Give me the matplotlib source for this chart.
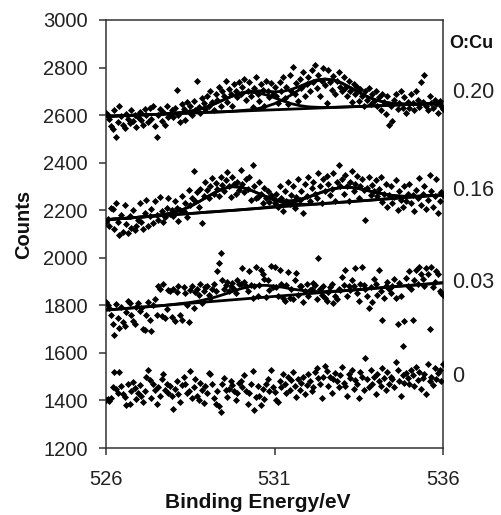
import numpy as np
import matplotlib
matplotlib.use('Agg')
import matplotlib.pyplot as plt

plt.rcParams['font.family'] = ['Liberation Sans', 'DejaVu Sans']

# measured spectra, 526-536 eV in 0.05 eV steps
counts_0 = [
    1400, 1405, 1398, 1410, 1455, 1520, 1448, 1432, 1520, 1460, 1425, 1415, 1380, 1470, 1385, 1440, 1478, 1452, 1405, 1430,
    1465, 1420, 1395, 1440, 1500, 1530, 1485, 1410, 1470, 1445, 1385, 1455, 1420, 1490, 1510, 1445, 1470, 1430, 1460, 1420,
    1365, 1450, 1480, 1425, 1395, 1465, 1500, 1470, 1430, 1440, 1525, 1410, 1455, 1490, 1420, 1400, 1475, 1445, 1390, 1460,
    1430, 1515, 1510, 1470, 1410, 1385, 1440, 1375, 1350, 1470, 1495, 1445, 1415, 1450, 1480, 1465, 1440, 1400, 1430, 1475,
    1480, 1455, 1505, 1440, 1385, 1430, 1470, 1525, 1360, 1415, 1460, 1420, 1380, 1450, 1405, 1470, 1490, 1440, 1530, 1455,
    1435, 1400, 1395, 1480, 1455, 1510, 1470, 1430, 1500, 1445, 1485, 1520, 1460, 1415, 1490, 1445, 1475, 1500, 1425, 1465,
    1510, 1480, 1440, 1455, 1520, 1535, 1495, 1470, 1410, 1500, 1545, 1525, 1460, 1500, 1430, 1490, 1515, 1480, 1455, 1505,
    1540, 1475, 1460, 1420, 1510, 1495, 1530, 1450, 1485, 1470, 1410, 1520, 1500, 1445, 1580, 1490, 1455, 1530, 1470, 1500,
    1425, 1510, 1480, 1460, 1535, 1495, 1445, 1520, 1470, 1500, 1490, 1455, 1560, 1530, 1480, 1420, 1505, 1475, 1515, 1495,
    1470, 1530, 1505, 1460, 1540, 1485, 1520, 1450, 1495, 1510, 1425, 1555, 1480, 1500, 1465, 1535, 1490, 1515, 1530, 1480,
    1555]

counts_003 = [
    1815, 1800, 1790, 1760, 1720, 1675, 1805, 1745, 1705, 1795, 1730, 1715, 1770, 1820, 1810, 1760, 1735, 1720, 1795, 1810,
    1775, 1790, 1700, 1695, 1760, 1815, 1740, 1690, 1800, 1825, 1760, 1880, 1870, 1755, 1890, 1745, 1785, 1865, 1860, 1750,
    1870, 1735, 1855, 1880, 1760, 1740, 1875, 1850, 1800, 1730, 1865, 1880, 1790, 1855, 1870, 1845, 1890, 1810, 1860, 1875,
    1880, 1845, 1830, 1870, 1890, 1860, 1944, 1978, 2020, 1905, 1870, 1885, 1900, 1860, 1880, 1895, 1870, 1850, 1905, 1890,
    1890, 1955, 1900, 1880, 1860, 1945, 1885, 1830, 1880, 1960, 1840, 1885, 1950, 1930, 1910, 1835, 1905, 1865, 1965, 1875,
    1960, 1875, 1840, 1950, 1890, 1830, 1820, 1885, 1940, 1830, 1870, 1825, 1905, 1935, 1845, 1880, 1880, 1815, 1860, 1890,
    1840, 1865, 1870, 1895, 1885, 1825, 2000, 1870, 1845, 1880, 1830, 1820, 1855, 1875, 1890, 1810, 1840, 1825, 1870, 1865,
    1920, 1885, 1950, 1840, 1880, 1865, 1905, 1880, 1955, 1850, 1820, 1890, 1960, 1885, 1870, 1840, 1790, 1875, 1815, 1910,
    1890, 1845, 1950, 1860, 1740, 1830, 1880, 1900, 1870, 1850, 1880, 1910, 1830, 1720, 1895, 1840, 1630, 1735, 1915, 1880,
    1945, 1870, 1740, 1905, 1950, 1890, 1960, 1930, 1910, 1880, 1955, 1930, 1700, 1960, 1875, 1900, 1945, 1930, 1860, 1850,
    1845]

counts_016 = [
    2150, 2165, 2135, 2210, 2205, 2120, 2230, 2150, 2095, 2180, 2110, 2220, 2140, 2105, 2175, 2125, 2200, 2115, 2135, 2160,
    2230, 2150, 2120, 2190, 2245, 2135, 2175, 2205, 2145, 2240, 2180, 2160, 2255, 2195, 2150, 2170, 2210, 2250, 2185, 2200,
    2175, 2240, 2210, 2155, 2200, 2260, 2195, 2230, 2170, 2285, 2220, 2250, 2365, 2240, 2275, 2215, 2290, 2145, 2260, 2320,
    2285, 2250, 2300, 2335, 2270, 2315, 2290, 2260, 2340, 2305, 2280, 2325, 2361, 2300, 2255, 2340, 2310, 2270, 2320, 2285,
    2369, 2310, 2275, 2330, 2290, 2340, 2245, 2390, 2300, 2250, 2255, 2320, 2270, 2230, 2295, 2250, 2280, 2235, 2265, 2250,
    2230, 2270, 2215, 2300, 2250, 2195, 2280, 2240, 2320, 2225, 2265, 2300, 2210, 2255, 2330, 2245, 2280, 2190, 2310, 2260,
    2340, 2240, 2295, 2320, 2270, 2250, 2355, 2300, 2230, 2330, 2280, 2345, 2310, 2265, 2290, 2355, 2240, 2320, 2390, 2300,
    2330, 2270, 2350, 2300, 2240, 2320, 2365, 2280, 2310, 2345, 2250, 2300, 2330, 2285, 2160, 2295, 2340, 2265, 2305, 2280,
    2325, 2260, 2290, 2340, 2235, 2270, 2310, 2215, 2265, 2300, 2230, 2255, 2325, 2200, 2280, 2245, 2215, 2300, 2240, 2270,
    2310, 2230, 2265, 2195, 2285, 2250, 2335, 2220, 2270, 2300, 2205, 2245, 2350, 2280, 2215, 2260, 2330, 2190, 2240, 2275,
    2265]

counts_020 = [
    2610, 2600, 2585, 2555, 2540, 2620, 2510, 2570, 2640, 2595, 2560, 2545, 2605, 2585, 2565, 2620, 2575, 2600, 2550, 2590,
    2615, 2580, 2560, 2625, 2600, 2570, 2630, 2585, 2640, 2555, 2510, 2600, 2625, 2575, 2615, 2560, 2640, 2590, 2605, 2620,
    2590, 2630, 2705, 2600, 2570, 2645, 2625, 2580, 2655, 2615, 2640, 2600, 2660, 2620, 2745, 2635, 2610, 2670, 2650, 2625,
    2680, 2640, 2700, 2655, 2620, 2690, 2665, 2720, 2640, 2700, 2680, 2745, 2655, 2710, 2690, 2640, 2730, 2700, 2675, 2740,
    2690, 2720, 2750, 2665, 2700, 2740, 2680, 2635, 2715, 2760, 2690, 2660, 2730, 2705, 2640, 2745, 2700, 2675, 2735, 2690,
    2720, 2680, 2650, 2740, 2700, 2760, 2670, 2720, 2645, 2770, 2700, 2803, 2690, 2735, 2660, 2750, 2715, 2780, 2680, 2730,
    2760, 2700, 2790, 2740, 2810, 2715, 2770, 2680, 2745, 2800, 2725, 2650, 2790, 2740, 2705, 2765, 2690, 2745, 2780, 2720,
    2700, 2760, 2715, 2680, 2745, 2700, 2655, 2730, 2690, 2720, 2660, 2710, 2680, 2640, 2700, 2665, 2715, 2645, 2690, 2660,
    2700, 2640, 2675, 2620, 2690, 2655, 2605, 2680, 2558, 2640, 2575, 2665, 2690, 2625, 2650, 2700, 2630, 2675, 2610, 2655,
    2630, 2690, 2650, 2620, 2700, 2665, 2635, 2740, 2655, 2769, 2640, 2620, 2680, 2650, 2630, 2665, 2645, 2610, 2660, 2640,
    2625]

# fitted curves, 526-536 eV in 0.25 eV steps
fit_020_env = [2595, 2596, 2598, 2599, 2601, 2602, 2603, 2605, 2608, 2611,
               2616, 2624, 2635, 2649, 2665, 2680, 2693, 2700, 2702, 2700,
               2698, 2700, 2708, 2721, 2736, 2748, 2752, 2748, 2735, 2716,
               2696, 2678, 2664, 2655, 2649, 2647, 2646, 2646, 2647, 2649, 2650]
fit_020_p1 = [2595, 2596, 2598, 2599, 2601, 2602, 2603, 2605, 2608, 2611,
              2616, 2624, 2635, 2649, 2665, 2680, 2691, 2696, 2694, 2685,
              2673, 2660, 2648, 2640, 2635, 2633, 2632, 2633, 2634, 2635,
              2636, 2638, 2639, 2640, 2642, 2643, 2645, 2646, 2647, 2649, 2650]
fit_020_p2 = [2595, 2596, 2598, 2599, 2601, 2602, 2603, 2605, 2606, 2607,
              2609, 2610, 2612, 2613, 2614, 2616, 2619, 2622, 2627, 2636,
              2648, 2665, 2685, 2708, 2729, 2744, 2751, 2747, 2734, 2716,
              2696, 2678, 2664, 2655, 2649, 2647, 2646, 2646, 2647, 2649, 2650]
fit_016_env = [2160, 2163, 2165, 2168, 2171, 2174, 2178, 2183, 2190, 2201,
               2216, 2235, 2256, 2276, 2292, 2299, 2297, 2287, 2272, 2258,
               2246, 2240, 2240, 2246, 2256, 2268, 2281, 2290, 2296, 2296,
               2291, 2283, 2275, 2268, 2262, 2259, 2258, 2259, 2261, 2262, 2265]
fit_016_p1 = [2160, 2163, 2165, 2168, 2171, 2174, 2178, 2183, 2190, 2201,
              2216, 2235, 2256, 2276, 2292, 2299, 2297, 2287, 2272, 2256,
              2242, 2232, 2227, 2225, 2225, 2226, 2229, 2231, 2234, 2236,
              2239, 2241, 2244, 2247, 2249, 2252, 2255, 2257, 2260, 2262, 2265]
fit_016_p2 = [2160, 2163, 2165, 2168, 2171, 2173, 2176, 2178, 2181, 2184,
              2186, 2189, 2192, 2194, 2197, 2199, 2202, 2205, 2208, 2212,
              2216, 2223, 2231, 2241, 2254, 2268, 2280, 2290, 2296, 2296,
              2291, 2283, 2275, 2268, 2262, 2259, 2258, 2259, 2261, 2262, 2265]
fit_003_p1 = [1780, 1783, 1786, 1789, 1792, 1794, 1797, 1800, 1804, 1808,
              1812, 1818, 1826, 1835, 1846, 1858, 1870, 1879, 1884, 1884,
              1881, 1876, 1869, 1864, 1860, 1858, 1858, 1859, 1861, 1864,
              1866, 1869, 1872, 1875, 1878, 1881, 1884, 1886, 1889, 1892, 1895]

# linear backgrounds (values at 526 and 536 eV)
base_020 = [2595, 2650]
base_016 = [2160, 2265]
base_003 = [1780, 1895]

ratio_labels = ['0.20', '0.16', '0.03', '0']
ratio_label_y = [2693, 2285, 1898, 1499]

e_min, e_max = 526, 536

fig = plt.figure(figsize=(5.01, 5.15), dpi=100)
ax = fig.add_axes([106 / 501, 1 - 448 / 515, 337 / 501, 428 / 515])

x_pts = np.linspace(e_min, e_max, len(counts_0))
x_fit = np.linspace(e_min, e_max, len(fit_020_env))
x_base = [e_min, e_max]

for series in (counts_020, counts_016, counts_003, counts_0):
    ax.scatter(x_pts, series, marker='D', s=13, color='black', linewidths=0, zorder=3)

for curve in (fit_020_env, fit_020_p1, fit_020_p2, fit_016_env, fit_016_p1, fit_016_p2, fit_003_p1):
    ax.plot(x_fit, curve, color='black', lw=2.0, zorder=4)
for base in (base_020, base_016, base_003):
    ax.plot(x_base, base, color='black', lw=2.0, zorder=4)

ax.set_xlim(e_min, e_max)
ax.set_ylim(1200, 3000)
ax.set_xticks([526, 531, 536])
ax.set_yticks(range(1200, 3001, 200))

for sp in ax.spines.values():
    sp.set_color('#333333')
    sp.set_linewidth(1.1)
ax.tick_params(axis='y', direction='out', length=5, width=1.1, pad=8, labelsize=14.5, colors='#333333', labelcolor='#222222')
ax.tick_params(axis='x', direction='out', length=5, width=1.1, pad=11, labelsize=14.5, colors='#333333', labelcolor='#222222')

# right-hand labels
fig.text(449 / 501, 1 - 43 / 515, 'O:Cu', fontsize=13, fontweight='bold', ha='left', va='center', color='#111111')
for lab, yv in zip(ratio_labels, ratio_label_y):
    ax.text(1.027, (yv - 1200) / 1800, lab, transform=ax.transAxes, fontsize=15.5,
            ha='left', va='center', color='#222222')

fig.text(24 / 501, 1 - 224 / 515, 'Counts', rotation=90, fontsize=14.5, fontweight='bold',
         ha='center', va='center', color='#111111')
fig.text(258 / 501, 1 - 502 / 515, 'Binding Energy/eV', fontsize=15, fontweight='bold',
         ha='center', va='center', color='#111111')

fig.savefig('out.png', dpi=100, facecolor='white')
